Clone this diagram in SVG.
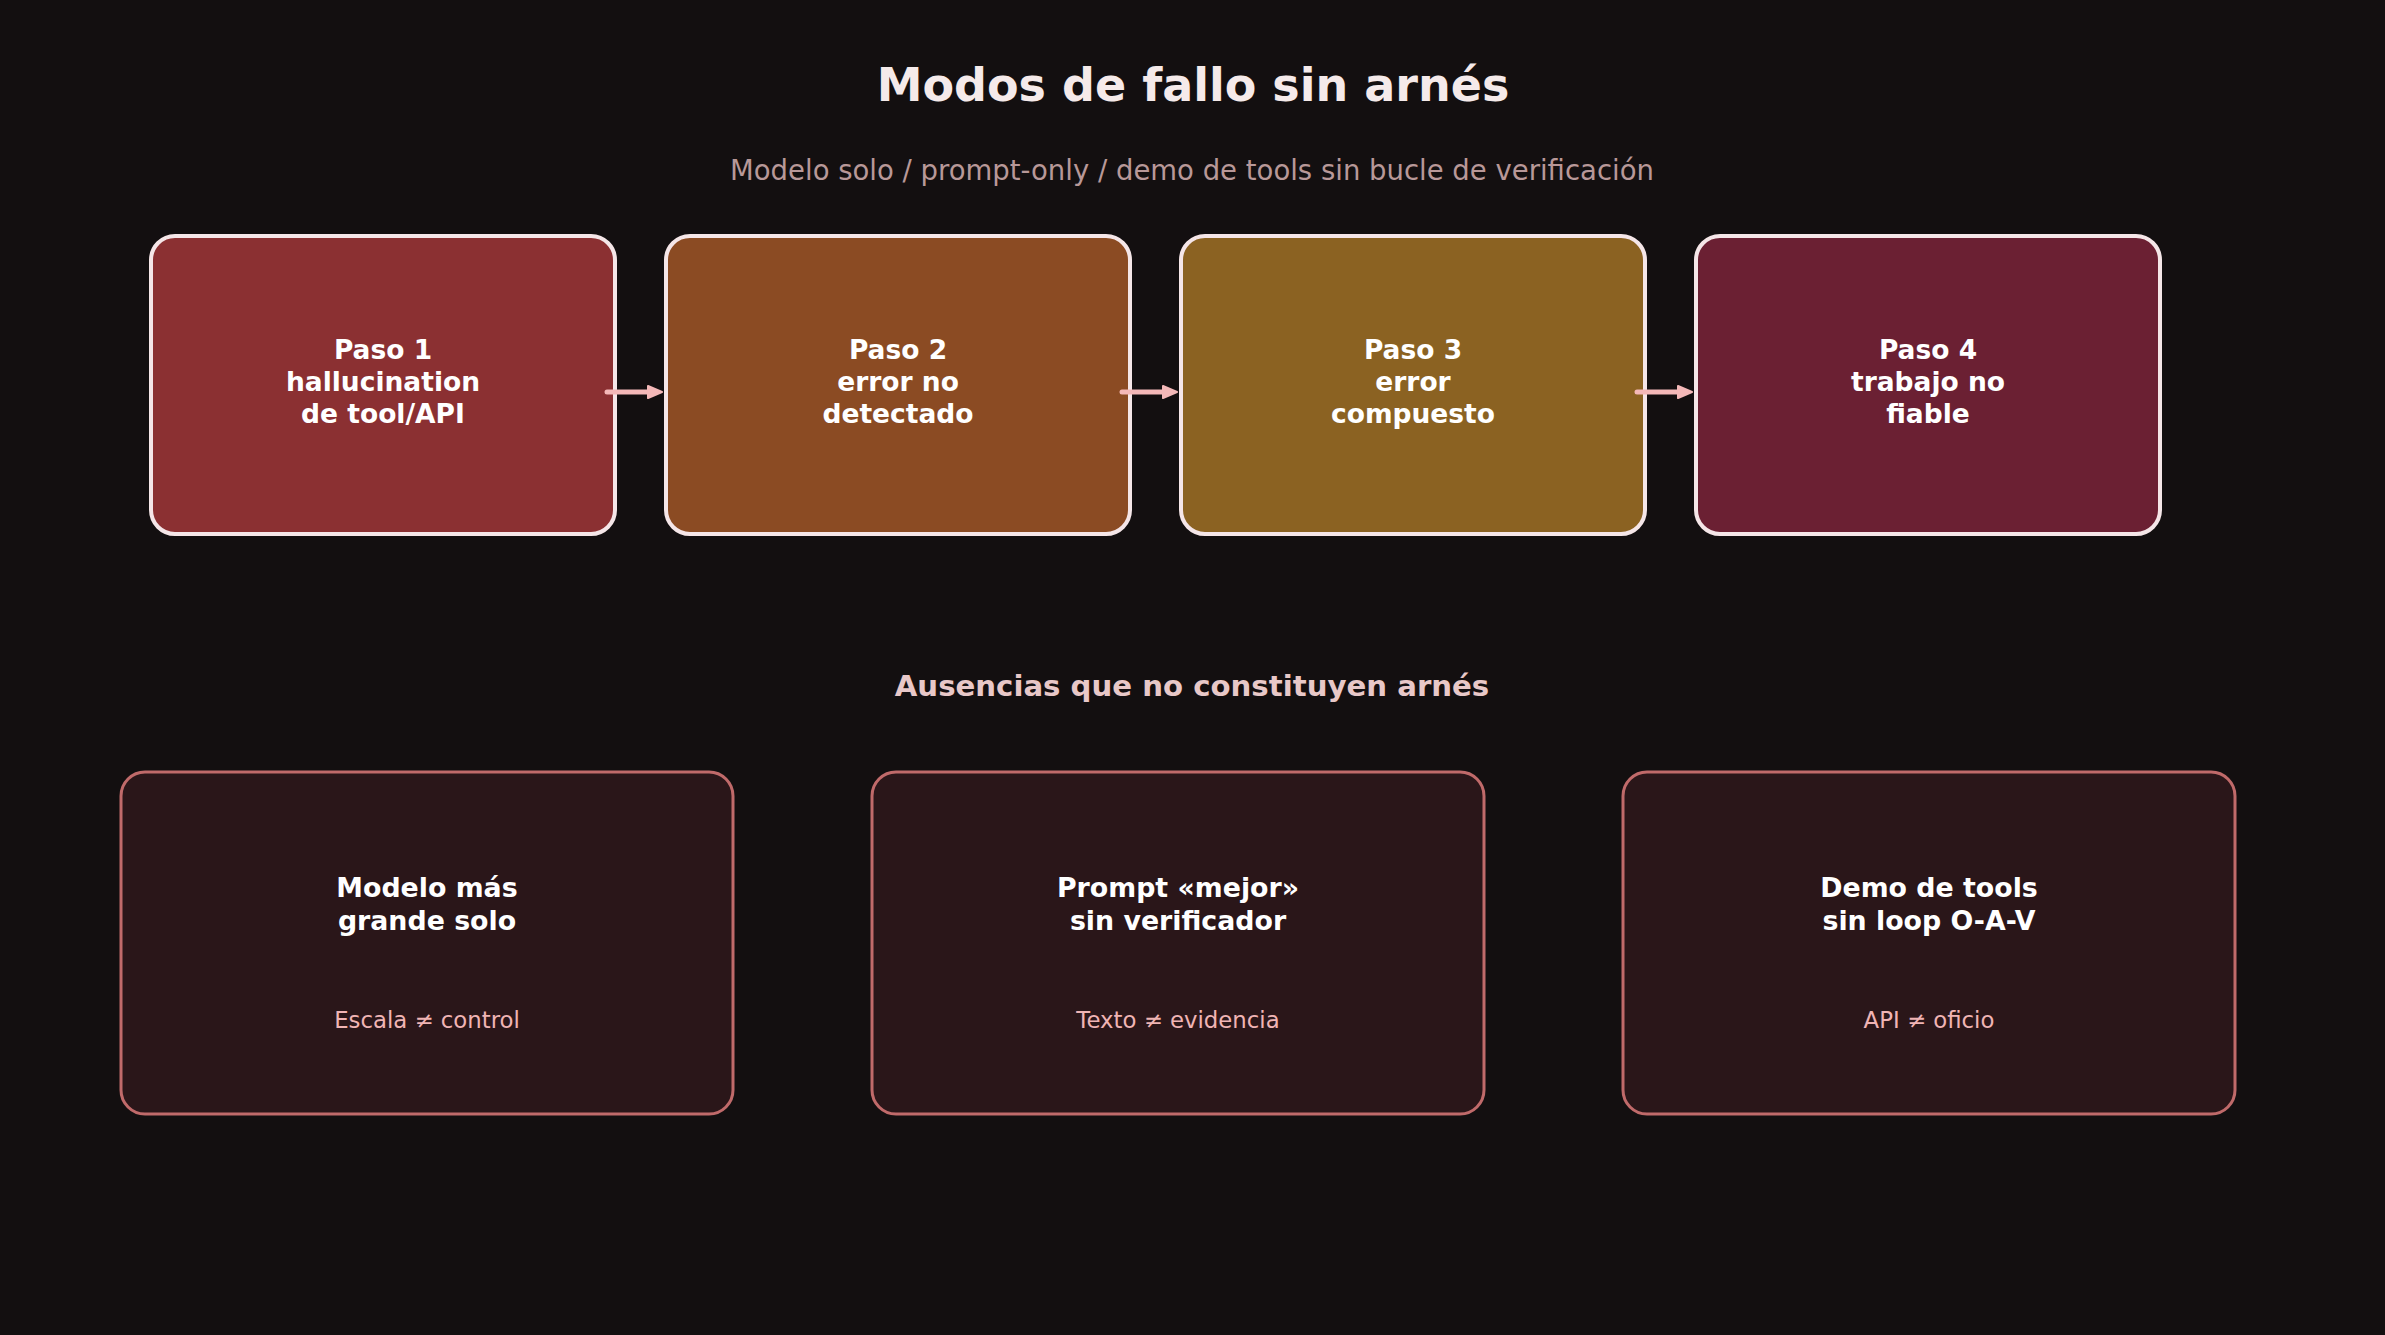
<svg xmlns="http://www.w3.org/2000/svg" width="2385" height="1335" viewBox="0 0 2385 1335">
  <defs>
    <style>
      text { font-family: "DejaVu Sans", "Liberation Sans", sans-serif; text-anchor: middle; }
      .title { font-size: 46px; font-weight: bold; fill: #f5eaea; }
      .subtitle { font-size: 27.5px; fill: #b89898; }
      .section { font-size: 29.2px; font-weight: bold; fill: #e8c8c8; }
      .step rect { stroke: #f5e6e8; stroke-width: 4; }
      .step text { font-size: 26.5px; font-weight: bold; fill: #ffffff; }
      .absence rect { fill: #2a1619; stroke: #c06a6a; stroke-width: 3; }
      .absence .head { font-size: 26.8px; font-weight: bold; fill: #ffffff; }
      .absence .note { font-size: 22.8px; fill: #f0b4b4; }
      .conn { stroke: #f4b8b8; stroke-width: 5; stroke-linecap: round; fill: none; }
    </style>
    <marker id="arrow" viewBox="0 0 16 14" markerWidth="16" markerHeight="14" markerUnits="userSpaceOnUse" refX="5" refY="7" orient="auto">
      <path d="M1,1 L15,7 L1,13 Z" fill="#f4b8b8" stroke="#f4b8b8" stroke-width="2" stroke-linejoin="round"/>
    </marker>
  </defs>

  <rect x="0" y="0" width="2385" height="1335" fill="#130f10"/>

  <text class="title" x="1193" y="101">Modos de fallo sin arnés</text>
  <text class="subtitle" x="1192" y="180">Modelo solo / prompt-only / demo de tools sin bucle de verificación</text>

  <g id="paso1" class="step">
    <rect x="151" y="236" width="464" height="298" rx="24" fill="#8b3032"/>
    <text x="383" y="359">Paso 1</text>
    <text x="383" y="391">hallucination</text>
    <text x="383" y="423">de tool/API</text>
  </g>
  <g id="paso2" class="step">
    <rect x="666" y="236" width="464" height="298" rx="24" fill="#8b4b23"/>
    <text x="898" y="359">Paso 2</text>
    <text x="898" y="391">error no</text>
    <text x="898" y="423">detectado</text>
  </g>
  <g id="paso3" class="step">
    <rect x="1181" y="236" width="464" height="298" rx="24" fill="#8b6222"/>
    <text x="1413" y="359">Paso 3</text>
    <text x="1413" y="391">error</text>
    <text x="1413" y="423">compuesto</text>
  </g>
  <g id="paso4" class="step">
    <rect x="1696" y="236" width="464" height="298" rx="24" fill="#6b2033"/>
    <text x="1928" y="359">Paso 4</text>
    <text x="1928" y="391">trabajo no</text>
    <text x="1928" y="423">fiable</text>
  </g>

  <g id="connectors">
    <line class="conn" x1="607" y1="392" x2="652" y2="392" marker-end="url(#arrow)"/>
    <line class="conn" x1="1122" y1="392" x2="1167" y2="392" marker-end="url(#arrow)"/>
    <line class="conn" x1="1637" y1="392" x2="1682" y2="392" marker-end="url(#arrow)"/>
  </g>

  <text class="section" x="1192" y="696">Ausencias que no constituyen arnés</text>

  <g id="ausencia1" class="absence">
    <rect x="121" y="772" width="612" height="342" rx="24"/>
    <text class="head" x="427" y="897">Modelo más</text>
    <text class="head" x="427" y="930">grande solo</text>
    <text class="note" x="427" y="1028">Escala ≠ control</text>
  </g>
  <g id="ausencia2" class="absence">
    <rect x="872" y="772" width="612" height="342" rx="24"/>
    <text class="head" x="1178" y="897">Prompt «mejor»</text>
    <text class="head" x="1178" y="930">sin verificador</text>
    <text class="note" x="1178" y="1028">Texto ≠ evidencia</text>
  </g>
  <g id="ausencia3" class="absence">
    <rect x="1623" y="772" width="612" height="342" rx="24"/>
    <text class="head" x="1929" y="897">Demo de tools</text>
    <text class="head" x="1929" y="930">sin loop O-A-V</text>
    <text class="note" x="1929" y="1028">API ≠ oficio</text>
  </g>
</svg>
